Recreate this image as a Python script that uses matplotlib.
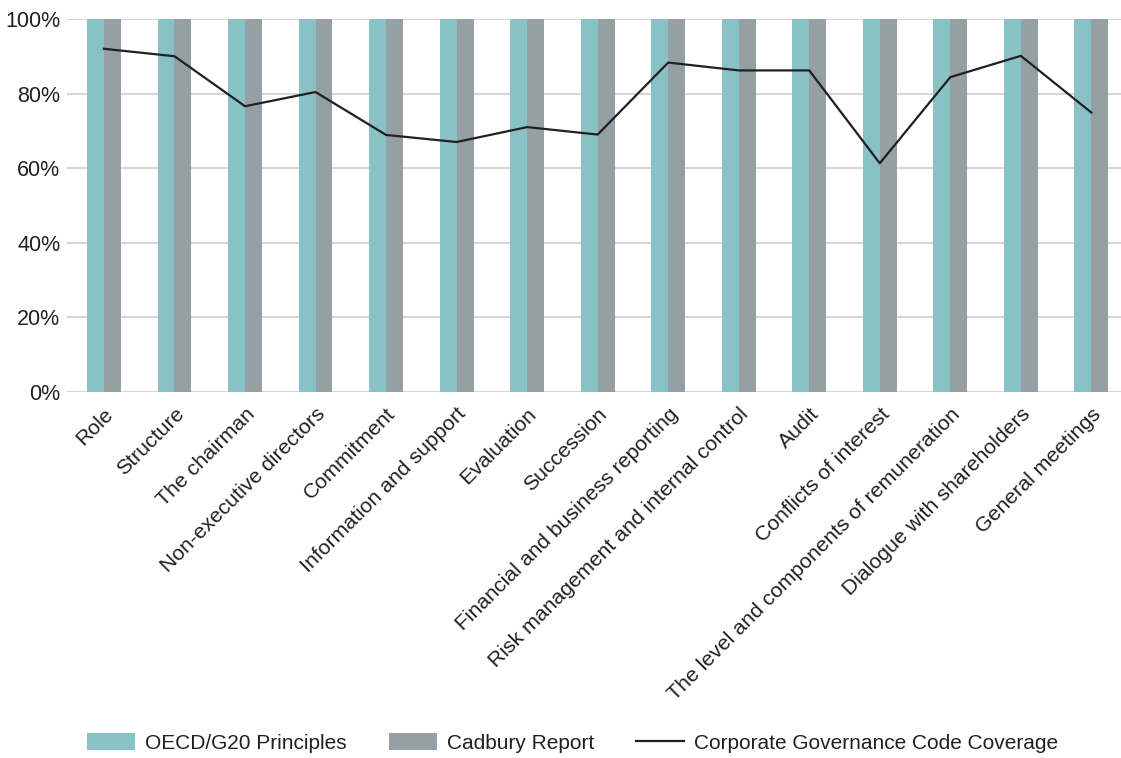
import numpy as np
import matplotlib

matplotlib.use("Agg")
import matplotlib.pyplot as plt

categories = [
    "Role",
    "Structure",
    "The chairman",
    "Non-executive directors",
    "Commitment",
    "Information and support",
    "Evaluation",
    "Succession",
    "Financial and business reporting",
    "Risk management and internal control",
    "Audit",
    "Conflicts of interest",
    "The level and components of remuneration",
    "Dialogue with shareholders",
    "General meetings",
]
oecd = [100] * 15
cadbury = [100] * 15
code_coverage = [92, 90, 76.6, 80.4, 68.9, 67.0, 71.0, 69.0, 88.3, 86.2, 86.2, 61.3, 84.4, 90.1, 74.9]

TEAL = "#88C2C6"
GREY = "#94A0A4"
INK = "#231F20"
GRID = "#D6D6D6"

plt.rcParams["font.family"] = ["Liberation Sans", "DejaVu Sans"]

fig = plt.figure(figsize=(11.21, 7.58), dpi=100)
ax = fig.add_axes([0.06, 0.483, 0.94, 0.492])

x = np.arange(len(categories))
width = 0.24
b1 = ax.bar(x - width / 2, oecd, width=width, color=TEAL, zorder=2)
b2 = ax.bar(x + width / 2, cadbury, width=width, color=GREY, zorder=2)
(ln,) = ax.plot(x, code_coverage, color=INK, lw=1.6, zorder=3)

ax.set_ylim(0, 100)
ax.set_xlim(-0.52, 14.42)
ax.set_yticks(range(0, 101, 20))
ax.set_yticklabels([f"{v}%" for v in range(0, 101, 20)])
ax.yaxis.grid(True, color=GRID, lw=1.5, zorder=0)
ax.set_axisbelow(True)
for spine in ax.spines.values():
    spine.set_visible(False)
ax.tick_params(axis="both", length=0, labelcolor=INK)
ax.tick_params(axis="y", pad=5, labelsize=15.5)
ax.tick_params(axis="x", pad=9, labelsize=15.3)

ax.set_xticks(x)
ax.set_xticklabels(categories, rotation=45, ha="right", rotation_mode="anchor")

fig.legend(
    [b1, b2, ln],
    ["OECD/G20 Principles", "Cadbury Report", "Corporate Governance Code Coverage"],
    loc="center",
    bbox_to_anchor=(0.511, 1 - 743 / 758),
    ncol=3,
    frameon=False,
    fontsize=15,
    handlelength=2.3,
    handleheight=0.85,
    handletextpad=0.5,
    columnspacing=2.0,
    labelcolor=INK,
)

fig.savefig("out.png", dpi=100)
